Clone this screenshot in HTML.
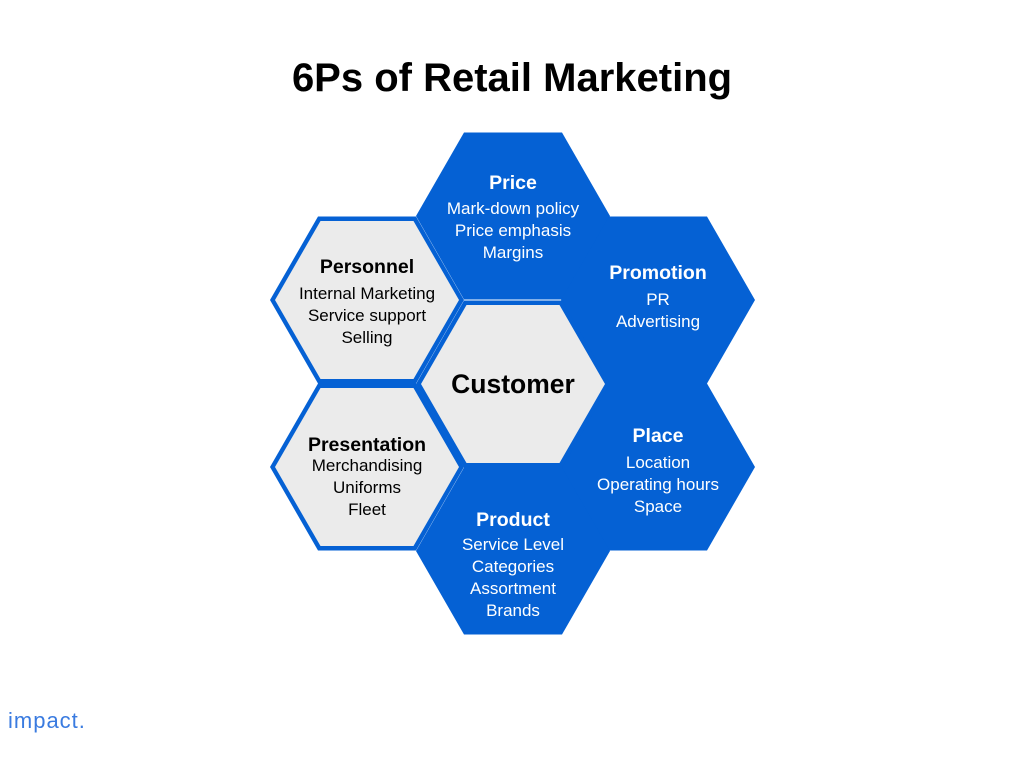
<!DOCTYPE html>
<html><head><meta charset="utf-8"><style>
body{margin:0;background:#fff;}
svg{display:block;}
text{font-family:"Liberation Sans","DejaVu Sans",sans-serif;text-anchor:middle;}
.t{font-weight:bold;font-size:19.5px;}
.b{fill:#fff;}
.g{fill:#000;}
.s{font-size:17px;}
</style></head><body>
<svg width="1024" height="768" viewBox="0 0 1024 768">
<defs>
<polygon id="h" points="-97,0 -49,-83.5 49,-83.5 97,0 49,83.5 -49,83.5"/>
<polygon id="hi" points="-92,0 -46.5,-79 46.5,-79 92,0 46.5,79 -46.5,79"/>
</defs>
<text x="512" y="91" style="font-size:40px;font-weight:bold" fill="#000">6Ps of Retail Marketing</text>
<g fill="#0561d4">
<use href="#h" x="513" y="216"/>
<use href="#h" x="658" y="300"/>
<use href="#h" x="658" y="467"/>
<use href="#h" x="513" y="551"/>
<use href="#h" x="513" y="384"/>
<use href="#h" x="367" y="300"/>
<use href="#h" x="367" y="467"/>
</g>
<g fill="#ebebeb">
<use href="#hi" x="367" y="300"/>
<use href="#hi" x="367" y="467"/>
<use href="#hi" x="513" y="384"/>
</g>
<g class="b">
<text class="t" x="513" y="189">Price</text>
<text class="s" x="513" y="214">Mark-down policy</text>
<text class="s" x="513" y="236">Price emphasis</text>
<text class="s" x="513" y="258">Margins</text>
<text class="t" x="658" y="279">Promotion</text>
<text class="s" x="658" y="305">PR</text>
<text class="s" x="658" y="327">Advertising</text>
<text class="t" x="658" y="442">Place</text>
<text class="s" x="658" y="468">Location</text>
<text class="s" x="658" y="490">Operating hours</text>
<text class="s" x="658" y="512">Space</text>
<text class="t" x="513" y="526">Product</text>
<text class="s" x="513" y="550">Service Level</text>
<text class="s" x="513" y="572">Categories</text>
<text class="s" x="513" y="594">Assortment</text>
<text class="s" x="513" y="616">Brands</text>
</g>
<g class="g">
<text class="t" x="367" y="273">Personnel</text>
<text class="s" x="367" y="299">Internal Marketing</text>
<text class="s" x="367" y="321">Service support</text>
<text class="s" x="367" y="343">Selling</text>
<text style="font-size:26.5px;font-weight:bold" x="513" y="393">Customer</text>
<text class="t" x="367" y="451">Presentation</text>
<text class="s" x="367" y="471">Merchandising</text>
<text class="s" x="367" y="493">Uniforms</text>
<text class="s" x="367" y="515">Fleet</text>
</g>
<text x="8" y="728" style="font-size:22px;text-anchor:start;letter-spacing:1px" fill="#3a7be0">impact.</text>
</svg>
</body></html>
